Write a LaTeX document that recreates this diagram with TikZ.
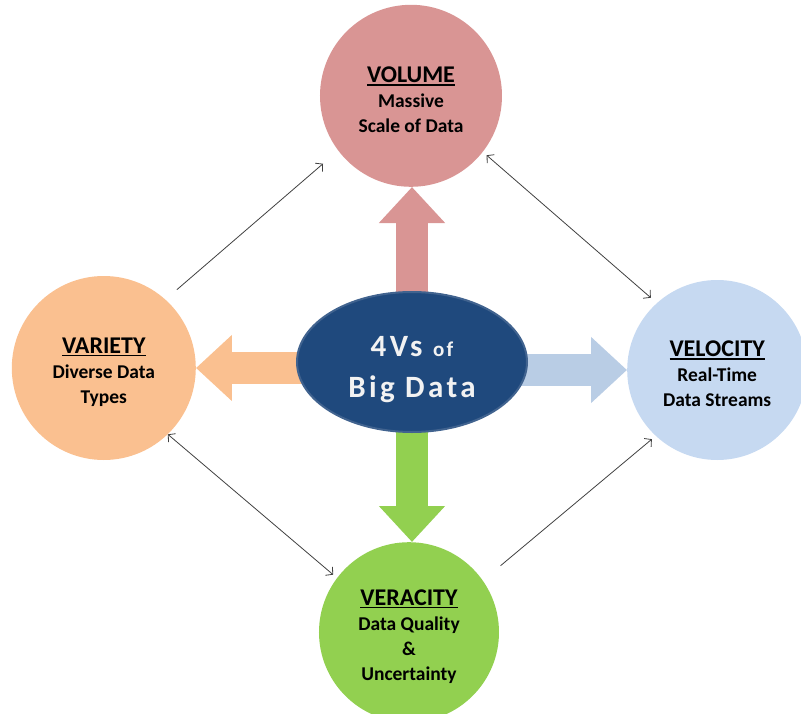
\documentclass[tikz,border=0pt]{standalone}
\usepackage{fontspec}
\setmainfont{Carlito}
\newfontfamily\corefont[LetterSpace=11]{Carlito}
\usetikzlibrary{shapes.geometric, positioning, arrows.meta, backgrounds}

\definecolor{volumepink}{HTML}{D99594}
\definecolor{varietyorange}{HTML}{FAC090}
\definecolor{velocityblue}{HTML}{C6D9F1}
\definecolor{velocityarrow}{HTML}{B9CDE5}
\definecolor{veracitygreen}{HTML}{92D050}
\definecolor{coreblue}{HTML}{1F497D}
\definecolor{coreborder}{HTML}{41638F}
\definecolor{corewhite}{HTML}{F2F2F2}
\definecolor{linkgrey}{HTML}{404040}

% underlined title inside a V circle
\newcommand{\vtitle}[1]{{\fontsize{24}{26}\selectfont\rule{0pt}{24pt}\setbox0\hbox{#1}\rlap{\rule[-3pt]{\wd0}{1.6pt}}\box0}}

\begin{document}
\begin{tikzpicture}[x=1pt, y=1pt,
    >={Straight Barb[length=5pt, width=11pt]},
    vcircle/.style={circle, inner sep=0pt, minimum size=180pt, align=center, font=\bfseries\fontsize{19.5}{25}\selectfont},
    bigarrow/.style={line width=32pt, -{Triangle[length=36pt, width=64pt]}},
    link/.style={draw=linkgrey, line width=0.8pt}
]
    \useasboundingbox (-412,362) rectangle (389,-351);

    % Core: 4Vs of Big Data
    \node[ellipse, fill=coreblue, draw=coreborder, line width=2pt, minimum width=230pt, minimum height=140pt, text=corewhite, text height=76pt, text depth=6pt, align=center, font=\corefont\bfseries\fontsize{31}{41}\selectfont] (core) at (0,0) {4Vs {\fontsize{21}{41}\selectfont of}\\Big Data};

    % Volume: top
    \node[vcircle, fill=volumepink, minimum size=182pt, above=104pt of core, xshift=-1pt] (volume) {\vtitle{VOLUME}\\Massive\\Scale of Data};

    % Variety: left
    \node[vcircle, fill=varietyorange, minimum size=184pt, left=100pt of core, yshift=-6pt] (variety) {\vtitle{VARIETY}\\Diverse Data\\Types};

    % Velocity: right
    \node[vcircle, fill=velocityblue, right=99pt of core, yshift=-8pt] (velocity) {\vtitle{VELOCITY}\\Real-Time\\Data Streams};

    % Veracity: bottom
    \node[vcircle, fill=veracitygreen, below=109pt of core, xshift=-3pt] (veracity) {\vtitle{VERACITY}\\Data Quality\\\&\\Uncertainty};

    % Block arrows from the core
    \begin{scope}[on background layer]
        \draw[bigarrow, volumepink] (core.center) -- (core.center |- volume.south);
        \draw[bigarrow, varietyorange] (core.center |- variety.east) -- (variety.east);
        \draw[bigarrow, velocityarrow] (core.center |- velocity.west) -- (velocity.west);
        \draw[bigarrow, veracitygreen] (core.center) -- (core.center |- veracity.north);
    \end{scope}

    % Thin links between the Vs
    \draw[link, ->, shorten <=15pt, shorten >=20pt] (variety.48) -- (volume.217);
    \draw[link, <->, shorten <=5pt, shorten >=8pt] (volume.322) -- (velocity.132);
    \draw[link, <->, shorten <=0pt, shorten >=5pt] (variety.314) -- (veracity.143);
    \draw[link, ->, shorten <=23pt, shorten >=5pt] (veracity.35) -- (velocity.227);
\end{tikzpicture}
\end{document}
